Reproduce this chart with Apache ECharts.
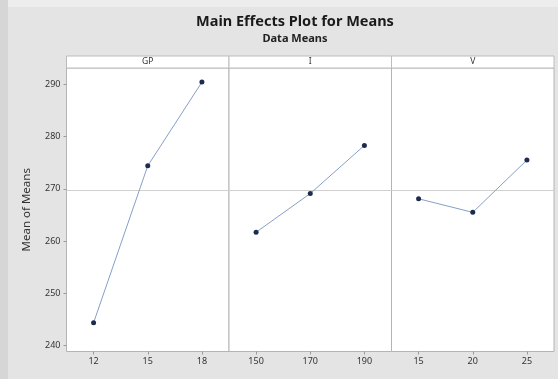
<!DOCTYPE html>
<html>
<head>
<meta charset="utf-8">
<script src="https://cdn.jsdelivr.net/npm/echarts@6/dist/echarts.min.js"></script>
<style>
html,body{margin:0;padding:0;background:#e4e4e4;}
#c{width:558px;height:379px;}
</style>
</head>
<body>
<div id="c"></div>
<script>
var factors = ['GP', 'I', 'V'];
var levels = [['12', '15', '18'], ['150', '170', '190'], ['15', '20', '25']];
var meansGP = [244.4, 274.4, 290.4];
var meansI = [261.7, 269.1, 278.3];
var meansV = [268.1, 265.5, 275.5];
var yTicks = [240, 250, 260, 270, 280, 290];
var seriesData = [meansGP, meansI, meansV];

var all = meansGP.concat(meansI, meansV);
var grand = all.reduce(function (a, b) { return a + b; }, 0) / all.length;

var L = 66.5, W = 162.5, T = 68, H = 283.5;
var font = 'Noto Sans';

var grids = [], xAxes = [], yAxes = [], series = [], titles = [], graphics = [];

titles.push({
  text: 'Main Effects Plot for Means',
  subtext: 'Data Means',
  left: 290, top: 9, itemGap: 4, textAlign: 'center',
  textStyle: {fontFamily: font, fontSize: 14.5, fontWeight: 'bold', color: '#1a1a1a'},
  subtextStyle: {fontFamily: font, fontSize: 11, fontWeight: 'bold', color: '#222'}
});

graphics.push({type: 'rect', shape: {x: 0, y: 0, width: 558, height: 7}, style: {fill: '#ededed'}, z: -10});
graphics.push({type: 'rect', shape: {x: 0, y: 0, width: 8, height: 379}, style: {fill: '#d6d6d6'}, z: -10});

for (var i = 0; i < 3; i++) {
  grids.push({left: L + i * W, top: T, width: W, height: H, show: true,
    backgroundColor: '#ffffff', borderColor: '#b4b4b4', borderWidth: 1});
  xAxes.push({type: 'category', gridIndex: i, data: levels[i], boundaryGap: true,
    axisLine: {show: false},
    axisTick: {show: true, alignWithLabel: true, length: 3, lineStyle: {color: '#9a9a9a'}},
    axisLabel: {fontFamily: font, fontSize: 9, color: '#333', margin: 5},
    splitLine: {show: false}});
  yAxes.push({type: 'value', gridIndex: i, min: 238.9, max: 293.1,
    name: i === 0 ? 'Mean of Means' : '',
    nameLocation: 'middle', nameGap: 34, nameRotate: 90,
    nameTextStyle: {fontFamily: font, fontSize: 11.5, color: '#333'},
    axisLine: {show: false},
    axisTick: {show: i === 0, length: 3, customValues: yTicks, lineStyle: {color: '#9a9a9a'}},
    axisLabel: {show: i === 0, customValues: yTicks, fontFamily: font, fontSize: 9, color: '#333', margin: 6},
    splitLine: {show: false}});
  series.push({type: 'line', xAxisIndex: i, yAxisIndex: i, data: seriesData[i],
    symbol: 'circle', symbolSize: 5,
    lineStyle: {color: '#86a0c6', width: 1},
    itemStyle: {color: '#1d2b4c'},
    emphasis: {disabled: true},
    markLine: {silent: true, symbol: 'none', label: {show: false},
      lineStyle: {color: '#d0d0d0', type: 'solid', width: 1},
      data: [{yAxis: grand}]},
    z: 5});
  graphics.push({type: 'rect', shape: {x: L + i * W, y: 56, width: W, height: 12},
    style: {fill: '#ffffff', stroke: '#bcbcbc', lineWidth: 1}, z: 10});
  graphics.push({type: 'text', x: L + i * W + W / 2, y: 62,
    style: {text: factors[i], fontFamily: font, fontSize: 8.5, fill: '#333', align: 'center', verticalAlign: 'middle'}, z: 11});
}

var chart = echarts.init(document.getElementById('c'), null, {renderer: 'canvas'});
chart.setOption({
  animation: false,
  backgroundColor: '#e4e4e4',
  title: titles,
  grid: grids,
  xAxis: xAxes,
  yAxis: yAxes,
  series: series,
  graphic: graphics
});
</script>
</body>
</html>
